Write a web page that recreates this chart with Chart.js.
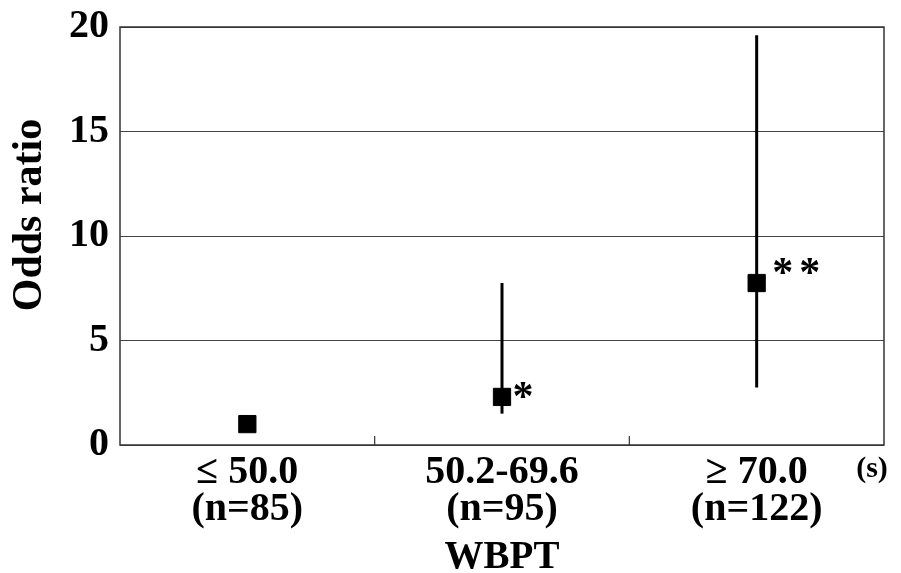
<!DOCTYPE html>
<html>
<head>
<meta charset="utf-8">
<script src="https://cdn.jsdelivr.net/npm/chart.js@4.4.0/dist/chart.umd.min.js"></script>
<style>
  html, body { margin: 0; padding: 0; background: #fff; }
  #wrap { width: 901px; height: 573px; }
</style>
</head>
<body>
<div id="wrap"><canvas id="c" width="901" height="573"></canvas></div>
<script>
// ---- data ----
const categories = [['≤ 50.0', '(n=85)'], ['50.2-69.6', '(n=95)'], ['≥ 70.0', '(n=122)']];
const oddsRatio = [1.0, 2.3, 7.75];
const ciLower = [null, 1.5, 2.75];
const ciUpper = [null, 7.75, 19.6];
const significance = ['', '*', '**'];
const yTicks = [0, 5, 10, 15, 20];

const FONT = '"Liberation Serif", "Times New Roman", serif';

const decorPlugin = {
  id: 'decor',
  beforeDatasetsDraw(chart) {
    const ctx = chart.ctx;
    const x = chart.scales.x, y = chart.scales.y;
    ctx.save();
    ctx.strokeStyle = '#000';
    ctx.lineWidth = 3;
    for (let i = 0; i < oddsRatio.length; i++) {
      if (ciLower[i] == null) continue;
      const px = x.getPixelForValue(i);
      ctx.beginPath();
      ctx.moveTo(px, y.getPixelForValue(ciLower[i]));
      ctx.lineTo(px, y.getPixelForValue(ciUpper[i]));
      ctx.stroke();
    }
    ctx.restore();
  },
  afterDraw(chart) {
    const ctx = chart.ctx;
    const a = chart.chartArea;
    const x = chart.scales.x, y = chart.scales.y;
    ctx.save();
    // frame
    ctx.strokeStyle = '#333';
    ctx.lineWidth = 1.5;
    ctx.strokeRect(a.left, a.top, a.right - a.left, a.bottom - a.top);
    // inner tick marks between categories
    ctx.lineWidth = 1.2;
    for (let i = 0; i < categories.length - 1; i++) {
      const px = (x.getPixelForValue(i) + x.getPixelForValue(i + 1)) / 2;
      ctx.beginPath();
      ctx.moveTo(px, a.bottom);
      ctx.lineTo(px, a.bottom - 9);
      ctx.stroke();
    }
    // significance stars
    ctx.fillStyle = '#000';
    ctx.font = 'bold 42px ' + FONT;
    ctx.textAlign = 'center';
    ctx.textBaseline = 'middle';
    for (let i = 0; i < significance.length; i++) {
      const s = significance[i];
      if (!s) continue;
      const px = x.getPixelForValue(i);
      const py = y.getPixelForValue(oddsRatio[i]);
      for (let k = 0; k < s.length; k++) {
        ctx.fillText('*', px + 21 + (s.length > 1 ? 5 : 0) + k * 27, py + 2 - (s.length > 1 ? 10 : 0));
      }
    }
    // unit label
    ctx.font = 'bold 30px ' + FONT;
    ctx.textAlign = 'center';
    ctx.textBaseline = 'alphabetic';
    ctx.fillText('(s)', 872, 477);
    // x title
    ctx.font = 'bold 39px ' + FONT;
    ctx.fillText('WBPT', (a.left + a.right) / 2, 568);
    // y title
    ctx.font = 'bold 42px ' + FONT;
    ctx.translate(30, 215);
    ctx.rotate(-Math.PI / 2);
    ctx.textBaseline = 'middle';
    ctx.fillText('Odds ratio', 0, 0);
    ctx.restore();
  }
};

new Chart(document.getElementById('c'), {
  type: 'line',
  data: {
    labels: categories,
    datasets: [{
      data: oddsRatio,
      showLine: false,
      pointStyle: 'rect',
      pointRadius: 12.2,
      pointHoverRadius: 12.2,
      pointBackgroundColor: '#000',
      pointBorderColor: '#000',
      pointBorderWidth: 1
    }]
  },
  options: {
    responsive: false,
    animation: false,
    events: [],
    layout: { padding: { left: 0, top: 27, right: 17, bottom: 0 } },
    plugins: { legend: { display: false }, tooltip: { enabled: false } },
    scales: {
      x: {
        type: 'category',
        offset: true,
        grid: { display: false },
        border: { display: false },
        ticks: {
          color: '#000',
          padding: 1,
          maxRotation: 0,
          autoSkip: false,
          font: { family: FONT, size: 40, weight: 'bold', lineHeight: 0.92 }
        },
        afterFit(s) { s.height = 128; s.paddingLeft = 0; s.paddingRight = 0; }
      },
      y: {
        min: 0, max: 20,
        afterBuildTicks(s) { s.ticks = yTicks.map(v => ({ value: v })); },
        grid: { color: '#444', lineWidth: 1, drawTicks: false },
        border: { display: false },
        ticks: {
          color: '#000',
          padding: 11,
          font: { family: FONT, size: 40, weight: 'bold' }
        },
        afterFit(s) { s.width = 120; s.paddingTop = 0; s.paddingBottom = 0; }
      }
    }
  },
  plugins: [decorPlugin]
});
</script>
</body>
</html>
